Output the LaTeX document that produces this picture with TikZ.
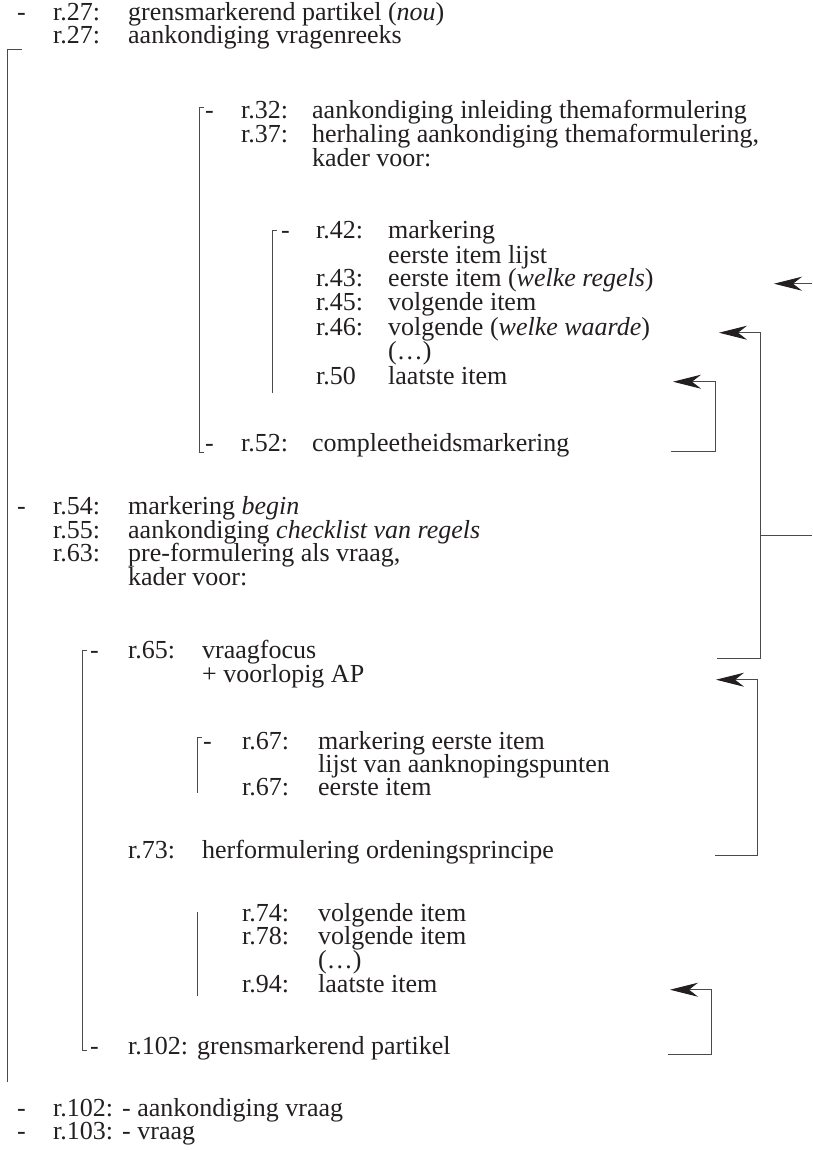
\documentclass[tikz,border=0pt]{standalone}
\usepackage{fontspec}
\setmainfont{Liberation Serif}
\usetikzlibrary{arrows.meta}
\definecolor{InkGray}{HTML}{231F20}
\definecolor{RuleGray}{HTML}{4A4A4A}

\begin{document}
\begin{tikzpicture}[x=1pt, y=-1pt,
    every node/.style={inner sep=0pt, anchor=base west, text=InkGray,
                       font=\fontsize{26}{28}\selectfont},
    brk/.style={draw=RuleGray, line width=0.9pt},
    arr/.style={brk, -{Stealth[length=28pt, width=14pt, inset=9pt, color=InkGray]}}]
  \useasboundingbox (0,0) rectangle (812,1150);

  % text rows: name/baseline/label x/label/text x/text
  \foreach \nm/\y/\lx/\lab/\tx/\txt in {
    a1/21/53/{r.27:}/128/{grensmarkerend partikel (\textit{nou})},
    a2/44/53/{r.27:}/128/{aankondiging vragenreeks},
    b1/119/241/{r.32:}/312/{aankondiging inleiding themaformulering},
    b2/143/241/{r.37:}/312/{herhaling aankondiging themaformulering,},
    b3/167/241/{}/312/{kader voor:},
    c1/239/316/{r.42:}/388/{markering},
    c2/263/316/{}/388/{eerste item lijst},
    c3/286/316/{r.43:}/388/{eerste item (\textit{welke regels})},
    c4/310/316/{r.45:}/388/{volgende item},
    c5/335/316/{r.46:}/388/{volgende (\textit{welke waarde})},
    c6/359/316/{}/388/{(\ldots)},
    c7/384/316/{r.50}/388/{laatste item},
    b4/451/241/{r.52:}/312/{compleetheidsmarkering},
    a3/514/53/{r.54:}/128/{markering \textit{begin}},
    a4/538/53/{r.55:}/128/{aankondiging \textit{checklist van regels}},
    a5/561/53/{r.63:}/128/{pre-formulering als vraag,},
    a6/585/53/{}/128/{kader voor:},
    d1/658/128/{r.65:}/202/{vraagfocus},
    d2/682/128/{}/202/{+ voorlopig AP},
    e1/749/242/{r.67:}/318/{markering eerste item},
    e2/772/242/{}/318/{lijst van aanknopingspunten},
    e3/795/242/{r.67:}/318/{eerste item},
    d3/858/128/{r.73:}/202/{herformulering ordeningsprincipe},
    e4/921/242/{r.74:}/318/{volgende item},
    e5/944/242/{r.78:}/318/{volgende item},
    e6/968/242/{}/318/{(\ldots)},
    e7/992/242/{r.94:}/318/{laatste item},
    d4/1054/128/{r.102:}/197/{grensmarkerend partikel},
    a7/1116/53/{r.102:}/122/{- aankondiging vraag},
    a8/1139/53/{r.103:}/122/{- vraag}
  }{
    \node (l\nm) at (\lx,\y) {\lab};
    \node (t\nm) at (\tx,\y) {\txt};
  }

  % dashes in front of the rows
  \foreach \nm/\x/\y in {a1/17/21, b1/205/119, c1/281/239, b4/205/451,
                         a3/17/514, d1/90/658, e1/203/749, d4/90/1054,
                         a7/17/1116, a8/17/1139}{
    \node (m\nm) at (\x,\y) {-};
  }

  % brackets on the left
  \coordinate (oT) at (22,49);   \coordinate (oB) at (7,1082);
  \coordinate (bT) at (204,107); \coordinate (bB) at (204,452);
  \coordinate (cT) at (277,230); \coordinate (cB) at (272,393);
  \coordinate (dT) at (87,650);  \coordinate (dB) at (87,1050);
  \coordinate (eT) at (202,737); \coordinate (eB) at (197,793);
  \coordinate (fT) at (197,912); \coordinate (fB) at (197,996);
  \draw[brk] (oT) -| (oB);
  \draw[brk] (bT) -- ++(-5,0) |- (bB);
  \draw[brk] (cT) -| (cB);
  \draw[brk] (dT) -- ++(-5,0) |- (dB);
  \draw[brk] (eT) -| (eB);
  \draw[brk] (fT) -- (fB);

  % arrows on the right, at the height of their rows
  \coordinate (edge) at (812,0);
  \coordinate (x1) at (774,0);
  \coordinate (x2) at (719,0); \coordinate (v2) at (760,0); \coordinate (h2) at (717,0);
  \coordinate (x3) at (673,0); \coordinate (v3) at (715,0); \coordinate (h3) at (671,0);
  \coordinate (x4) at (716,0); \coordinate (v4) at (757,0); \coordinate (h4) at (715,0);
  \coordinate (x5) at (670,0); \coordinate (v5) at (711,0); \coordinate (h5) at (668,0);
  \draw[arr] (edge |- tc3.mid) -- (x1 |- tc3.mid);
  \draw[arr] (h2 |- td1.base) -- (v2 |- td1.base) |- (x2 |- tc5.mid);
  \draw[brk] (v2 |- ta4.mid) -- (edge |- ta4.mid);
  \draw[arr] (h3 |- tb4.base) -- (v3 |- tb4.base) |- (x3 |- tc7.mid);
  \draw[arr] (h4 |- td3.mid) -- (v4 |- td3.mid) |- (x4 |- td2.mid);
  \draw[arr] (h5 |- td4.base) -- (v5 |- td4.base) |- (x5 |- te7.mid);
\end{tikzpicture}
\end{document}
